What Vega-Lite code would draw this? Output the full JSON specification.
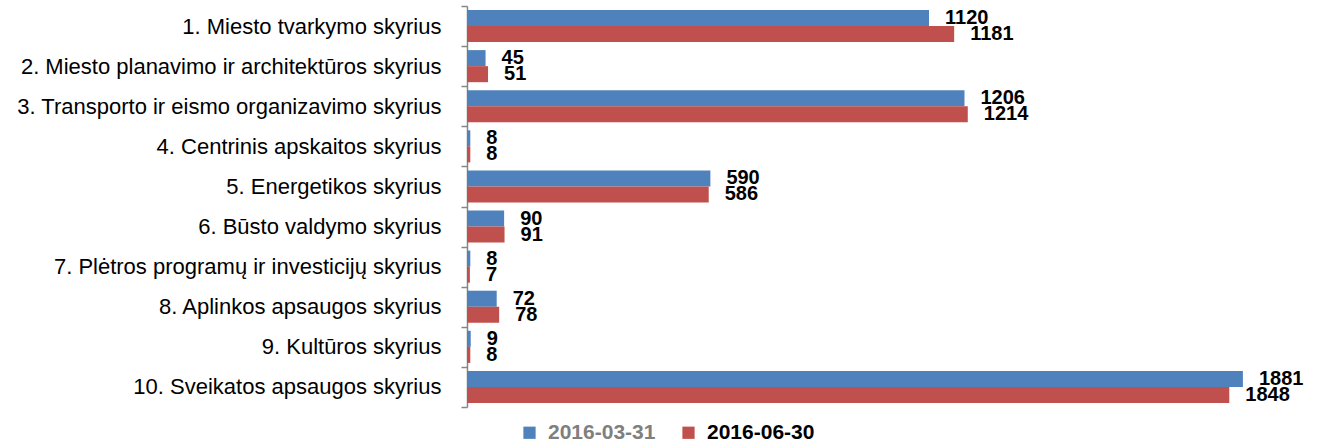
{
  "$schema": "https://vega.github.io/schema/vega-lite/v6.json",
  "width": 825,
  "height": 401,
  "autosize": "none",
  "padding": {"left": 467, "top": 6, "right": 30, "bottom": 36},
  "config": {"view": {"stroke": null}, "font": "Liberation Sans"},
  "data": {
    "values": [
      {"cat": "1. Miesto tvarkymo skyrius", "series": "2016-03-31", "value": 1120},
      {"cat": "1. Miesto tvarkymo skyrius", "series": "2016-06-30", "value": 1181},
      {"cat": "2. Miesto planavimo ir architektūros skyrius", "series": "2016-03-31", "value": 45},
      {"cat": "2. Miesto planavimo ir architektūros skyrius", "series": "2016-06-30", "value": 51},
      {"cat": "3. Transporto ir eismo organizavimo skyrius", "series": "2016-03-31", "value": 1206},
      {"cat": "3. Transporto ir eismo organizavimo skyrius", "series": "2016-06-30", "value": 1214},
      {"cat": "4. Centrinis apskaitos skyrius", "series": "2016-03-31", "value": 8},
      {"cat": "4. Centrinis apskaitos skyrius", "series": "2016-06-30", "value": 8},
      {"cat": "5. Energetikos skyrius", "series": "2016-03-31", "value": 590},
      {"cat": "5. Energetikos skyrius", "series": "2016-06-30", "value": 586},
      {"cat": "6. Būsto valdymo skyrius", "series": "2016-03-31", "value": 90},
      {"cat": "6. Būsto valdymo skyrius", "series": "2016-06-30", "value": 91},
      {"cat": "7. Plėtros programų ir investicijų skyrius", "series": "2016-03-31", "value": 8},
      {"cat": "7. Plėtros programų ir investicijų skyrius", "series": "2016-06-30", "value": 7},
      {"cat": "8. Aplinkos apsaugos skyrius", "series": "2016-03-31", "value": 72},
      {"cat": "8. Aplinkos apsaugos skyrius", "series": "2016-06-30", "value": 78},
      {"cat": "9. Kultūros skyrius", "series": "2016-03-31", "value": 9},
      {"cat": "9. Kultūros skyrius", "series": "2016-06-30", "value": 8},
      {"cat": "10. Sveikatos apsaugos skyrius", "series": "2016-03-31", "value": 1881},
      {"cat": "10. Sveikatos apsaugos skyrius", "series": "2016-06-30", "value": 1848}
    ]
  },
  "encoding": {
    "y": {
      "field": "cat",
      "type": "nominal",
      "sort": null,
      "scale": {"paddingInner": 0, "paddingOuter": 0},
      "axis": {
        "title": null,
        "tickBand": "extent",
        "domainColor": "#868686",
        "domainWidth": 1.5,
        "tickColor": "#868686",
        "tickWidth": 1.5,
        "tickSize": 6,
        "labelFontSize": 22,
        "labelColor": "#000000",
        "labelPadding": 20,
        "labelLimit": 0
      }
    },
    "yOffset": {
      "field": "series",
      "sort": ["2016-03-31", "2016-06-30"],
      "scale": {"paddingOuter": 0.25, "paddingInner": 0}
    },
    "x": {
      "field": "value",
      "type": "quantitative",
      "scale": {"domain": [0, 2000]},
      "axis": null
    }
  },
  "layer": [
    {
      "mark": {"type": "bar"},
      "encoding": {
        "color": {
          "field": "series",
          "type": "nominal",
          "sort": ["2016-03-31", "2016-06-30"],
          "scale": {"domain": ["2016-03-31", "2016-06-30"], "range": ["#4F81BD", "#C0504D"]},
          "legend": {
            "title": null,
            "orient": "none",
            "direction": "horizontal",
            "legendX": 52,
            "legendY": 416,
            "symbolType": "square",
            "symbolSize": 150,
            "symbolStrokeWidth": 0,
            "symbolOpacity": 1,
            "labelFontSize": 21,
            "labelFontWeight": "bold",
            "labelOffset": 8,
            "columnPadding": 22,
            "encode": {
              "labels": {
                "update": {
                  "fill": {"signal": "datum.label == '2016-03-31' ? '#7F7F7F' : '#000000'"}
                }
              }
            }
          }
        }
      }
    },
    {
      "mark": {"type": "text", "align": "left", "baseline": "middle", "dx": 16, "fontWeight": "bold", "fontSize": 20, "color": "#000000"},
      "encoding": {"text": {"field": "value", "type": "quantitative"}}
    }
  ]
}
